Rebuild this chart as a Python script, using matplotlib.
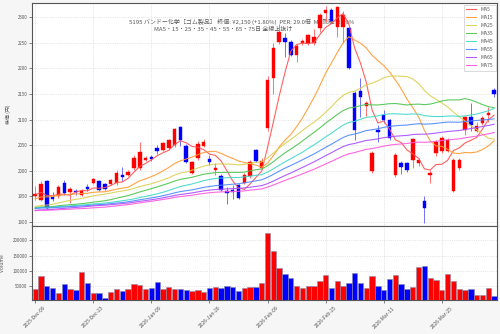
import matplotlib
matplotlib.use('Agg')
import matplotlib.pyplot as plt
import numpy as np
import pandas as pd

plt.rcParams['font.family'] = ['Noto Sans CJK JP', 'DejaVu Sans']

# ---- data ----
opens = [1951, 1942, 1979, 1949, 1950, 1977, 1959, 1961, 1953, 1969,
         1977, 1979, 1974, 1975, 1976, 1991, 1992, 2006, 2005, 2021,
         2027, 2045, 2041, 2044, 2051, 2085, 2049, 1996, 2025, 2049,
         2023, 2002, 1990, 1960, 1962, 1972, 1977, 1990, 2040, 2006,
         2084, 2182, 2252, 2260, 2252, 2227, 2249, 2249, 2249, 2279,
         2308, 2314, 2282, 2282, 2279, 2152, 2155, 2127, 1999, 2079,
         2109, 2100, 1992, 2015, 2015, 2021, 2015, 1940, 1992, 2035,
         2038, 2038, 1960, 2005, 2080, 2105, 2078, 2094, 2109, 2158]
highs = [1971, 1980, 1981, 1958, 1972, 1981, 1969, 1965, 1964, 1975,
         1985, 1981, 1976, 1983, 2001, 2008, 2001, 2030, 2057, 2028,
         2031, 2050, 2056, 2062, 2083, 2088, 2052, 2020, 2059, 2062,
         2030, 2015, 1993, 1968, 1972, 1975, 1995, 2022, 2043, 2024,
         2186, 2250, 2286, 2269, 2255, 2248, 2258, 2268, 2277, 2308,
         2323, 2318, 2323, 2312, 2282, 2155, 2181, 2136, 2038, 2090,
         2119, 2102, 2034, 2020, 2017, 2065, 2025, 1950, 2002, 2060,
         2068, 2064, 2025, 2024, 2108, 2133, 2095, 2108, 2125, 2162]
lows = [1943, 1940, 1925, 1940, 1947, 1953, 1937, 1953, 1950, 1961,
        1975, 1960, 1962, 1973, 1973, 1979, 1990, 2002, 2002, 2019,
        2020, 2033, 2038, 2040, 2046, 2048, 2015, 1993, 2022, 2046,
        2012, 1991, 1960, 1935, 1945, 1944, 1975, 1985, 2017, 2003,
        2078, 2150, 2248, 2222, 2224, 2212, 2246, 2246, 2246, 2272,
        2290, 2288, 2262, 2250, 2198, 2060, 2105, 2108, 1995, 2057,
        2094, 2060, 1988, 1993, 1998, 2005, 2010, 1898, 1977, 2028,
        2035, 2036, 1958, 2002, 2070, 2077, 2075, 2090, 2096, 2145]
closes = [1955, 1974, 1927, 1945, 1969, 1956, 1964, 1958, 1961, 1965,
          1983, 1962, 1964, 1981, 1995, 1988, 1998, 2025, 2036, 2025,
          2023, 2038, 2054, 2060, 2081, 2060, 2018, 2018, 2053, 2057,
          2017, 2006, 1963, 1957, 1958, 1947, 1992, 2018, 2020, 2020,
          2178, 2240, 2271, 2252, 2227, 2244, 2254, 2266, 2262, 2305,
          2314, 2292, 2321, 2305, 2201, 2080, 2145, 2133, 2034, 2075,
          2100, 2064, 2030, 2007, 2002, 2062, 2021, 1927, 1995, 2056,
          2064, 2060, 2022, 2021, 2105, 2090, 2088, 2103, 2112, 2150]
volumes = [42400, 83700, 52000, 44600, 29300, 57600, 42400, 38000, 96700, 62000,
           28300, 29300, 13000, 31500, 42400, 36000, 40000, 58700, 54300, 41300,
           43500, 63000, 40000, 46700, 41300, 40000, 37000, 34800, 38000, 31500,
           44600, 46700, 45600, 50000, 49000, 36000, 45600, 47800, 47800, 62000,
           224000, 164000, 109800, 91300, 78300, 52200, 45600, 51000, 50000, 67400,
           87000, 45600, 67400, 51000, 59800, 94600, 59800, 43500, 84800, 52200,
           39100, 72800, 87000, 56500, 42400, 47800, 114000, 117400, 78300, 71700,
           39100, 91300, 67400, 42400, 38000, 42400, 20600, 20600, 43500, 17400]
# estimated closes before the visible window (needed for the moving averages)
prior_closes = [1915, 1922, 1918, 1925, 1920, 1912, 1917, 1924, 1921, 1916,
                1910, 1905, 1898, 1900, 1895, 1902, 1908, 1904, 1899, 1909,
                1912, 1918, 1925, 1920, 1928, 1922, 1915, 1924, 1930, 1921,
                1926, 1920, 1918, 1925, 1929, 1924, 1919, 1922, 1927, 1925,
                1928, 1924, 1921, 1917, 1920, 1926, 1930, 1922, 1919, 1923,
                1918, 1912, 1905, 1900, 1896, 1902, 1908, 1910, 1912, 1912,
                1918, 1925, 1932, 1938, 1942, 1945, 1950, 1948, 1955, 1957,
                1950, 1958, 1948, 1954]
tick_labels = ['2025-Dec-09', '2025-Dec-23', '2026-Jan-09', '2026-Jan-26',
               '2026-Feb-09', '2026-Feb-25', '2026-Mar-11', '2026-Mar-25']
ma_windows = [5, 15, 25, 35, 45, 55, 65, 75]
ma_colors = ['#ff5050', '#ff9a30', '#dccf50', '#4cc44c',
             '#40d8c8', '#4d88ff', '#a64dff', '#ff55dd']
title1 = '5195 バンドー化学［ゴム製品］ 終値: ¥2,150 (+1.80%)  PER: 29.0倍  MA乖離: 2.99%'
title2 = 'MA5・15・25・35・45・55・65・75日 全線上抜け'

# ---- figure ----
fig = plt.figure(figsize=(5, 3.34), dpi=100, facecolor='#f6f6f6')
ax = fig.add_axes([0.0646, 0.3234, 0.9294, 0.6676])
axv = fig.add_axes([0.0646, 0.1003, 0.9294, 0.2231], sharex=ax)

x = np.arange(len(closes))
o = np.array(opens, float); c = np.array(closes, float)
h = np.array(highs, float); l = np.array(lows, float)
up = c >= o
body_col = np.where(up, '#ff0000', '#0000ff')
wick_col = np.where(up, '#ff7070', '#7070ff')

ax.vlines(x, l, h, colors=wick_col, linewidth=0.7, zorder=3)
ax.bar(x, np.maximum(np.abs(c - o), 0.8), bottom=np.minimum(o, c), width=0.6,
       color=body_col, edgecolor=body_col, linewidth=0.3, zorder=4)

full = pd.Series(prior_closes + closes, dtype=float)
n0 = len(prior_closes)
for w, col in zip(ma_windows, ma_colors):
    ma = full.rolling(w).mean().iloc[n0:].to_numpy()
    ax.plot(x, ma, color=col, linewidth=0.8, alpha=0.9, label=f'MA{w}', zorder=5)

axv.bar(x, volumes, width=0.92, color=body_col, edgecolor='#8a8aa8', linewidth=0.4, zorder=3)

# axes styling
for a in (ax, axv):
    a.set_facecolor('white')
    a.grid(True, linestyle=':', color='#cfcfcf', linewidth=0.5, zorder=0)
    for s in a.spines.values():
        s.set_color('#555555')
        s.set_linewidth(0.8)
    a.tick_params(labelsize=3.2, colors='#555555', length=2, width=0.5, pad=1.5)

ax.set_xlim(-0.5, 79.5)
ax.set_ylim(1892, 2328)
ax.set_yticks([1900, 1950, 2000, 2050, 2100, 2150, 2200, 2250, 2300])
ax.tick_params(labelbottom=False)
ax.set_ylabel('株価 (円)', fontsize=3.6, color='#555555')
ax.yaxis.set_label_coords(-0.046, 0.5)

axv.set_ylim(3900, 246400)
axv.set_yticks([50000, 100000, 150000, 200000])
axv.set_yticklabels(['50000', '100000', '150000', '200000'])
axv.set_xticks(np.arange(0, 80, 10))
axv.set_xticklabels(tick_labels, rotation=45, ha='center', fontsize=3.6)
axv.set_ylabel('Volume', fontsize=3.6, color='#555555')
axv.yaxis.set_label_coords(-0.058, 0.5)

leg = ax.legend(loc='upper right', fontsize=3.6, frameon=True, framealpha=1,
                edgecolor='#cccccc', fancybox=False, handlelength=2.0,
                labelspacing=0.6, borderaxespad=0.3, borderpad=0.5)
leg.get_frame().set_linewidth(0.5)
for t in leg.get_texts():
    t.set_color('#555555')

ax.text(0.484, 0.9356, title1, transform=fig.transFigure, ha='center', va='center',
        fontsize=4.3, color='#555555', zorder=1)
ax.text(0.446, 0.9147, title2, transform=fig.transFigure, ha='center', va='center',
        fontsize=4.3, color='#555555', zorder=1)

fig.savefig('out.png', dpi=100, facecolor=fig.get_facecolor())
